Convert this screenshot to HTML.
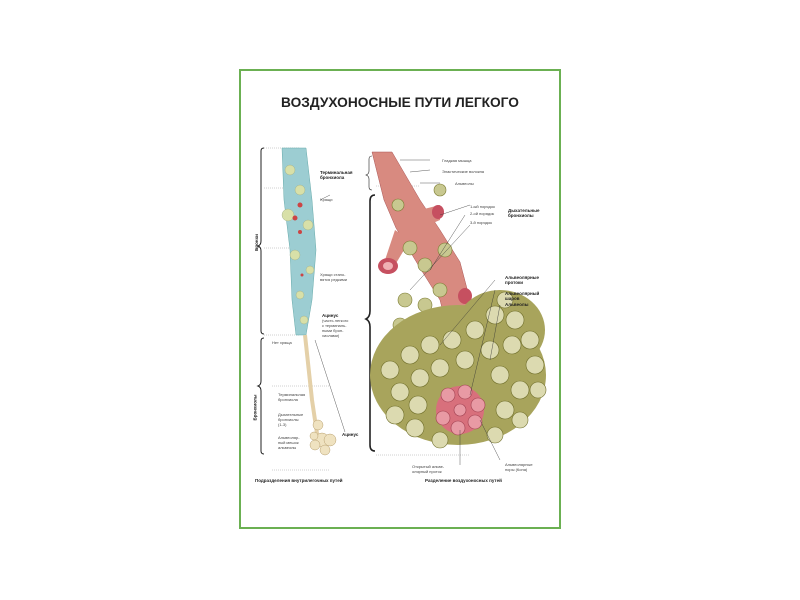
<!DOCTYPE html>
<html><head><meta charset="utf-8"><style>
body{margin:0;width:800px;height:600px;background:#fff;position:relative;overflow:hidden;font-family:"Liberation Sans",sans-serif}
.f{position:absolute;left:239px;top:69px;width:322px;height:460px;border:2px solid #6bb052;box-sizing:border-box}
.t{position:absolute;left:240px;top:94px;width:320px;text-align:center;font-weight:bold;font-size:14px;color:#222;transform:scaleX(0.98)}
.s{position:absolute;font-size:4px;color:#444;line-height:5px}
.b{position:absolute;font-size:4.5px;font-weight:bold;color:#222;line-height:5px}
</style></head><body>
<div class="f"></div>
<div class="t">ВОЗДУХОНОСНЫЕ ПУТИ ЛЕГКОГО</div>
<svg width="800" height="600" style="position:absolute;left:0;top:0">
<g fill="none" stroke="#222" stroke-width="1">
<path d="M264 148 q-3 0 -3 3 v90 q0 4 -3 5 q3 1 3 5 v80 q0 3 3 3"/>
<path d="M264 338 q-3 0 -3 3 v40 q0 4 -3 5 q3 1 3 5 v60 q0 3 3 3"/>
<path d="M372 156 q-3 0 -3 3 v12 q0 3 -3 4 q3 1 3 4 v8 q0 3 3 3" stroke-width="0.6"/>
<path d="M375 195 q-5 0 -5 6 v110 q0 6 -4 8 q4 2 4 8 v118 q0 6 5 6" stroke-width="1.6"/>
</g>
<g stroke="#888" stroke-width="0.4" stroke-dasharray="1,1">
<line x1="264" y1="148" x2="300" y2="148"/><line x1="264" y1="188" x2="300" y2="188"/>
<line x1="264" y1="248" x2="300" y2="248"/><line x1="264" y1="335" x2="300" y2="335"/>
<line x1="272" y1="386" x2="330" y2="386"/><line x1="272" y1="470" x2="330" y2="470"/>
<line x1="376" y1="186" x2="420" y2="186"/><line x1="376" y1="455" x2="470" y2="455"/>
</g>
<path d="M282 148 L306 148 L312 200 L316 250 L312 300 L306 335 L296 335 L292 300 L290 250 L284 200 Z" fill="#9ccdd2" stroke="#6aa" stroke-width="0.5"/>
<g fill="#d8e0a8" stroke="#9a8" stroke-width="0.4">
<circle cx="290" cy="170" r="5"/><circle cx="300" cy="190" r="5"/><circle cx="288" cy="215" r="6"/><circle cx="308" cy="225" r="5"/><circle cx="295" cy="255" r="5"/><circle cx="310" cy="270" r="4"/><circle cx="300" cy="295" r="4"/><circle cx="304" cy="320" r="4"/></g>
<g fill="#c44"><circle cx="300" cy="205" r="2.5"/><circle cx="295" cy="218" r="2.5"/><circle cx="300" cy="232" r="2"/><circle cx="302" cy="275" r="1.5"/></g>
<path d="M305 335 L312 400 L318 440" stroke="#e4d0a8" stroke-width="4" fill="none"/>
<g fill="#efe2c0" stroke="#b8a070" stroke-width="0.5"><circle cx="318" cy="425" r="5"/><circle cx="322" cy="440" r="7"/><circle cx="330" cy="440" r="6"/><circle cx="315" cy="445" r="5"/><circle cx="325" cy="450" r="5"/><circle cx="314" cy="436" r="4"/></g>
<path d="M372 152 L392 152 L420 200 L440 230 L460 262 L470 300 L470 340 L450 340 L440 300 L420 268 L396 228 L384 200 Z" fill="#d88a80" stroke="#a55" stroke-width="0.5"/>
<path d="M400 215 L440 205 L440 220 L405 235 Z" fill="#d88a80"/>
<path d="M395 230 L385 260 L395 265 L410 240 Z" fill="#d88a80"/>
<ellipse cx="388" cy="266" rx="10" ry="8" fill="#c65060"/><ellipse cx="388" cy="266" rx="5" ry="4" fill="#f0b0b4"/>
<ellipse cx="465" cy="296" rx="7" ry="8" fill="#c65060"/>
<ellipse cx="438" cy="212" rx="6" ry="7" fill="#c65060"/>
<g fill="#c8c890" stroke="#7a7a30" stroke-width="0.6">
<circle cx="410" cy="248" r="7"/><circle cx="425" cy="265" r="7"/><circle cx="445" cy="250" r="7"/><circle cx="405" cy="300" r="7"/><circle cx="425" cy="305" r="7"/><circle cx="440" cy="290" r="7"/><circle cx="435" cy="325" r="7"/><circle cx="400" cy="325" r="7"/><circle cx="398" cy="205" r="6"/><circle cx="440" cy="190" r="6"/><circle cx="455" cy="330" r="6"/></g>
<ellipse cx="458" cy="375" rx="88" ry="70" fill="#a8a45c"/>
<ellipse cx="500" cy="330" rx="45" ry="40" fill="#a8a45c"/>
<g fill="#dcdab0" stroke="#6f6e2a" stroke-width="0.6">
<circle cx="390" cy="370" r="9"/><circle cx="410" cy="355" r="9"/><circle cx="430" cy="345" r="9"/><circle cx="452" cy="340" r="9"/><circle cx="475" cy="330" r="9"/><circle cx="495" cy="315" r="9"/><circle cx="515" cy="320" r="9"/><circle cx="530" cy="340" r="9"/><circle cx="505" cy="300" r="8"/>
<circle cx="400" cy="392" r="9"/><circle cx="420" cy="378" r="9"/><circle cx="440" cy="368" r="9"/><circle cx="465" cy="360" r="9"/><circle cx="490" cy="350" r="9"/><circle cx="512" cy="345" r="9"/><circle cx="535" cy="365" r="9"/>
<circle cx="395" cy="415" r="9"/><circle cx="418" cy="405" r="9"/><circle cx="500" cy="375" r="9"/><circle cx="520" cy="390" r="9"/><circle cx="538" cy="390" r="8"/><circle cx="415" cy="428" r="9"/><circle cx="505" cy="410" r="9"/><circle cx="520" cy="420" r="8"/><circle cx="440" cy="440" r="8"/><circle cx="495" cy="435" r="8"/></g>
<circle cx="460" cy="410" r="24" fill="#d8707c"/>
<g fill="#e89aa4" stroke="#a04050" stroke-width="0.6"><circle cx="448" cy="395" r="7"/><circle cx="465" cy="392" r="7"/><circle cx="478" cy="405" r="7"/><circle cx="475" cy="422" r="7"/><circle cx="458" cy="428" r="7"/><circle cx="443" cy="418" r="7"/><circle cx="460" cy="410" r="6"/></g>
<g stroke="#333" stroke-width="0.4" fill="none">
<line x1="320" y1="200" x2="330" y2="195"/><line x1="400" y1="160" x2="430" y2="160"/><line x1="410" y1="172" x2="430" y2="170"/><line x1="420" y1="183" x2="440" y2="183"/>
<line x1="440" y1="215" x2="470" y2="205"/><line x1="430" y1="270" x2="465" y2="215"/><line x1="410" y1="290" x2="470" y2="225"/>
<line x1="440" y1="345" x2="495" y2="280"/><line x1="470" y1="395" x2="495" y2="290"/><line x1="490" y1="360" x2="500" y2="305"/>
<line x1="460" y1="430" x2="460" y2="465"/><line x1="480" y1="420" x2="500" y2="460"/><line x1="315" y1="340" x2="345" y2="432"/></g>
</svg>
<div class="b" style="left:320px;top:170px">Терминальная<br>бронхиола</div>
<div class="s" style="left:320px;top:197px">Хрящи</div>
<div class="s" style="left:320px;top:272px">Хрящи стано-<br>вятся редкими</div>
<div class="b" style="left:322px;top:313px">Ацинус</div>
<div class="s" style="left:322px;top:318px">(часть легкого<br>с терминаль-<br>ными брон-<br>хиолами)</div>
<div class="s" style="left:272px;top:340px">Нет хряща</div>
<div class="s" style="left:278px;top:392px">Терминальная<br>бронхиола</div>
<div class="s" style="left:278px;top:412px">Дыхательные<br>бронхиолы<br>(1-3)</div>
<div class="s" style="left:278px;top:435px">Альвеоляр-<br>ный мешок<br>альвеолы</div>
<div class="b" style="left:342px;top:432px">Ацинус</div>
<div class="s" style="left:442px;top:158px">Гладкая мышца</div>
<div class="s" style="left:442px;top:169px">Эластические волокна</div>
<div class="s" style="left:455px;top:181px">Альвеолы</div>
<div class="s" style="left:470px;top:204px">1-ый порядок</div>
<div class="s" style="left:470px;top:211px">2-ой порядок</div>
<div class="s" style="left:470px;top:220px">3-й порядок</div>
<div class="b" style="left:508px;top:208px">Дыхательные<br>бронхиолы</div>
<div class="b" style="left:505px;top:275px">Альвеолярные<br>протоки</div>
<div class="b" style="left:505px;top:291px">Альвеолярный<br>шаров</div>
<div class="b" style="left:505px;top:302px">Альвеолы</div>
<div class="s" style="left:412px;top:464px">Открытый альве-<br>олярный проток</div>
<div class="s" style="left:505px;top:462px">Альвеолярные<br>поры (Кона)</div>
<div class="b" style="left:255px;top:478px">Подразделения внутрилегочных путей</div>
<div class="b" style="left:425px;top:478px">Разделение воздухоносных путей</div>
<div class="b" style="left:248px;top:240px;transform:rotate(-90deg)">Бронхи</div>
<div class="b" style="left:242px;top:405px;transform:rotate(-90deg)">Бронхиолы</div>
</body></html>
